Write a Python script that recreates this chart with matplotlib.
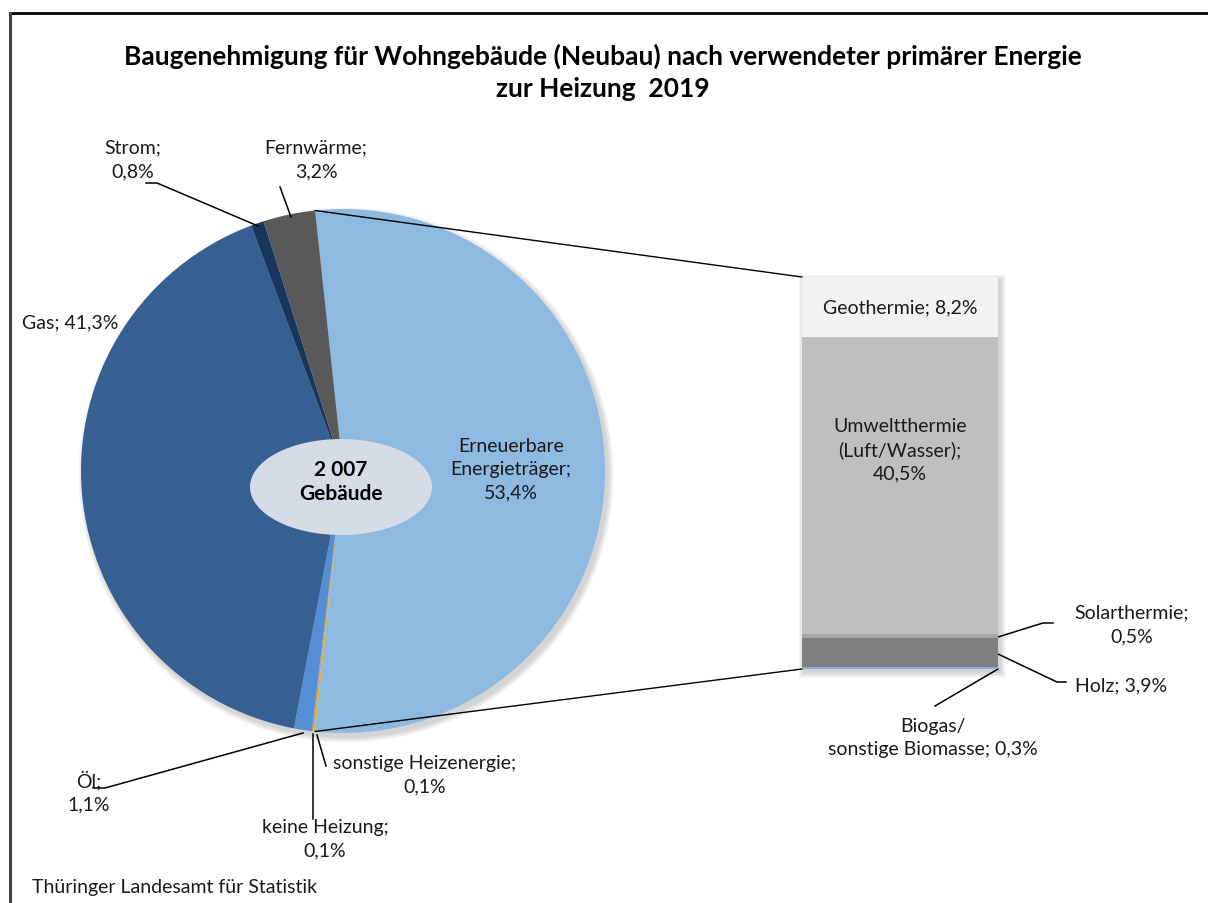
import matplotlib
matplotlib.use("Agg")
import matplotlib.pyplot as plt
from matplotlib.patches import Ellipse, Circle, Rectangle, ConnectionPatch
import numpy as np

plt.rcParams['font.family'] = ['Lato', 'DejaVu Sans']

# ---- data ----
pie_labels = ["Erneuerbare\nEnergieträger;\n53,4%", "sonstige Heizenergie;\n0,1%",
              "keine Heizung;\n0,1%", "Öl;\n1,1%", "Gas; 41,3%", "Strom;\n0,8%",
              "Fernwärme;\n3,2%"]
pie_values = [53.4, 0.1, 0.1, 1.1, 41.3, 0.8, 3.2]
pie_colors = ["#8EB9E1", "#F2B400", "#A5A5A5", "#558ED5", "#366092", "#17365D", "#595959"]

bar_labels = ["Biogas/\nsonstige Biomasse; 0,3%", "Holz; 3,9%", "Solarthermie;\n0,5%",
              "Umweltthermie\n(Luft/Wasser);\n40,5%", "Geothermie; 8,2%"]
bar_values = [0.3, 3.9, 0.5, 40.5, 8.2]
bar_colors = ["#8EA9DB", "#7F7F7F", "#A6A6A6", "#BFBFBF", "#F2F2F2"]

title = "Baugenehmigung für Wohngebäude (Neubau) nach verwendeter primärer Energie\nzur Heizung  2019"
center_text = "2 007\nGebäude"
source = "Thüringer Landesamt für Statistik"

W, H = 1208, 904
fig = plt.figure(figsize=(W / 100, H / 100), dpi=100)
ax = fig.add_axes([0, 0, 1, 1])

def Y(y):
    return H - y

cx, cy, R = 343, Y(472), 262
ern_angle = pie_values[0] / sum(pie_values) * 360
start = ern_angle / 2

# soft shadow for pie
for i in range(4):
    ax.add_patch(Circle((cx + 3, cy - 4), R + 1 + i * 1.5, color="black", alpha=0.045, lw=0, zorder=0))

ax.pie(pie_values, colors=pie_colors, startangle=start, counterclock=False,
       center=(cx, cy), radius=R, wedgeprops=dict(linewidth=0))

ax.add_patch(Ellipse((341, Y(488)), 182, 96, color="#D6DCE5", lw=0, zorder=3))
ax.text(341, Y(500), center_text, ha="center", va="baseline", fontsize=15,
        fontweight="bold", linespacing=1.25, zorder=4)

fs = 14
col = "#1a1a1a"
txt = dict(ha="center", va="center", fontsize=fs, color=col, linespacing=1.45, zorder=5)
# pie labels
ax.text(511, Y(470), pie_labels[0], **txt)
ax.text(425, Y(775), pie_labels[1], **txt)
ax.text(325, Y(839), pie_labels[2], **txt)
ax.text(89, Y(792), pie_labels[3], **txt)
ax.text(22, Y(323), pie_labels[4], ha="left", va="center", fontsize=fs, color=col, zorder=5)
ax.text(133, Y(160), pie_labels[5], **txt)
ax.text(316, Y(160), pie_labels[6], **txt)

lk = dict(color="black", lw=1.1, zorder=5)
ax.plot([317, 326], [Y(736), Y(767)], **lk)
ax.plot([313, 313], [Y(735), Y(820)], **lk)
ax.plot([93, 105, 303], [Y(789), Y(789), Y(734)], **lk)
ax.plot([146, 157, 258], [Y(184), Y(184), Y(227)], **lk)
ax.plot([280, 291], [Y(188), Y(218)], **lk)

# bar of pie
bx0, bx1, by0, by1 = 802, 998, 670, 278
for i in range(4):
    d = 1 + i * 1.5
    ax.add_patch(Rectangle((bx0 - d + 2, Y(by0) - d - 3), bx1 - bx0 + 2 * d, (by0 - by1) + 2 * d,
                           color="black", alpha=0.045, lw=0, zorder=0))
bax = fig.add_axes([bx0 / W, Y(by0) / H, (bx1 - bx0) / W, (by0 - by1) / H])
bottoms = np.concatenate([[0], np.cumsum(bar_values)[:-1]])
bax.bar(0, bar_values, bottom=bottoms, width=1, color=bar_colors, linewidth=0)
bax.set_xlim(-0.5, 0.5)
bax.set_ylim(0, sum(bar_values))
bax.axis("off")

bax.text(900, Y(308), bar_labels[4], transform=ax.transData, **txt)
bax.text(900, Y(450), bar_labels[3], transform=ax.transData, **txt)
ax.text(1132, Y(625), bar_labels[2], **txt)
ax.text(1075, Y(686), bar_labels[1], ha="left", va="center", fontsize=fs, color=col, zorder=5)
ax.text(933, Y(738), bar_labels[0], **txt)
ax.plot([998, 1043, 1053], [Y(638), Y(624), Y(624)], **lk)
ax.plot([998, 1057, 1066], [Y(655), Y(683), Y(683)], **lk)
ax.plot([998, 935], [Y(670), Y(707)], **lk)

# connectors between pie and bar
t1 = np.deg2rad(start)
t2 = np.deg2rad(start - ern_angle)
for t, yb in [(t1, sum(bar_values)), (t2, 0)]:
    p = (cx + R * np.cos(t), cy + R * np.sin(t))
    con = ConnectionPatch(xyA=p, coordsA=ax.transData, xyB=(-0.5, yb), coordsB=bax.transData,
                          color="black", lw=1.0, zorder=6)
    fig.add_artist(con)

ax.text(603, Y(72), title, ha="center", va="center", fontsize=19, fontweight="bold",
        linespacing=1.4, color="black")
ax.text(32, Y(888), source, ha="left", va="center", fontsize=fs, color=col)

# frame
ax.plot([10, W], [Y(14), Y(14)], color="black", lw=2, zorder=7)
ax.plot([10, 10], [Y(14), 0], color="#404040", lw=2.2, zorder=7)

ax.set_xlim(0, W)
ax.set_ylim(0, H)
ax.set_aspect("auto")
ax.axis("off")

fig.savefig("out.png", dpi=100)
